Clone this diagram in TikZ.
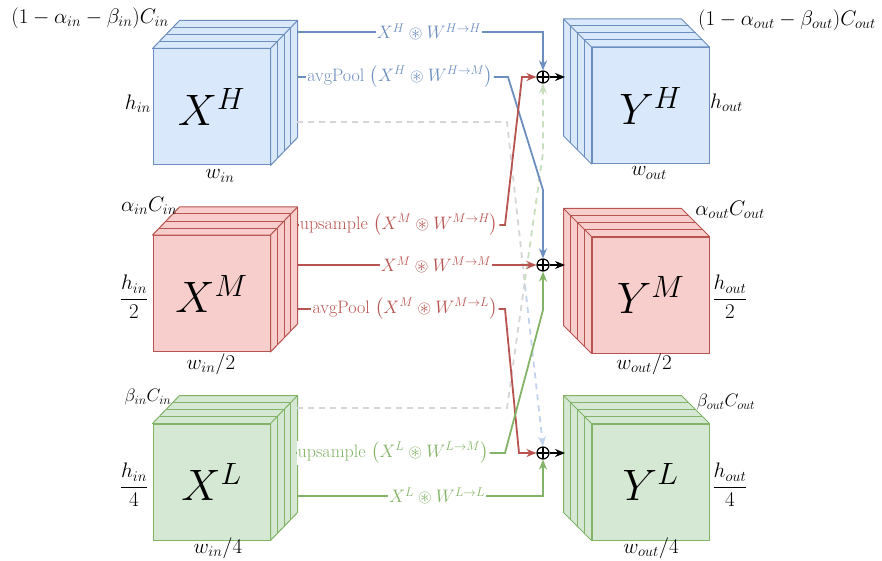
\RequirePackage{fix-cm}
\documentclass[tikz,border=0pt]{standalone}
\usepackage{amsmath,amssymb}
\usetikzlibrary{arrows.meta,calc}
\definecolor{bfill}{HTML}{DAE8FC}
\definecolor{bline}{HTML}{6C8EBF}
\definecolor{rfill}{HTML}{F8CECC}
\definecolor{rline}{HTML}{B85450}
\definecolor{gfill}{HTML}{D5E8D4}
\definecolor{gline}{HTML}{82B366}
\definecolor{dgray}{HTML}{D6D6D6}
\definecolor{dblue}{HTML}{C3D3EC}
\definecolor{dgreen}{HTML}{C8DEBE}

\newcommand\xstack[3]{%
 \draw[#3, fill=#2, line width=1pt, line join=round]
   (#1.north west) -- ++(27,-28) -- ($(#1.north east)+(27,-28)$) -- ($(#1.south east)+(27,-28)$) -- (#1.south east) -- (#1.north east) -- cycle;
 \foreach \k in {0.25,0.5,0.75}{
   \draw[#3, line width=1pt] ($(#1.north west)+\k*(27,-28)$) -- ($(#1.north east)+\k*(27,-28)$) -- ($(#1.south east)+\k*(27,-28)$);}
 \draw[#3, line width=1pt] (#1.north east) -- ++(27,-28);
}
\newcommand\ystack[3]{%
 \draw[#3, fill=#2, line width=1pt, line join=round]
   (#1.north east) -- ++(-28,-28) -- ($(#1.north west)+(-28,-28)$) -- ($(#1.south west)+(-28,-28)$) -- (#1.south west) -- (#1.north west) -- cycle;
 \foreach \k in {0.25,0.5,0.75}{
   \draw[#3, line width=1pt] ($(#1.north east)+\k*(-28,-28)$) -- ($(#1.north west)+\k*(-28,-28)$) -- ($(#1.south west)+\k*(-28,-28)$);}
 \draw[#3, line width=1pt] (#1.north west) -- ++(-28,-28);
}

\tikzset{
  face/.style={draw, line width=1pt, inner sep=0pt, minimum width=117pt, minimum height=116pt, font=\fontsize{44}{50}\selectfont},
  sum/.style={circle, draw=black, line width=1.2pt, minimum size=12pt, inner sep=0pt,
    path picture={\draw[line width=1.2pt] (path picture bounding box.north) -- (path picture bounding box.south)
       (path picture bounding box.west) -- (path picture bounding box.east);}},
  conn/.style={line width=1.8pt},
  tip/.style={-{Stealth[length=10pt,width=8pt]}},
  lbl/.style={fill=white, inner sep=1pt, font=\fontsize{18}{21}\selectfont},
  dim/.style={inner sep=0pt, font=\fontsize{21}{24}\selectfont},
  dims/.style={inner sep=0pt, font=\fontsize{18}{21}\selectfont},
  dash1/.style={line width=1.8pt, dash pattern=on 6pt off 5pt},
}

\begin{document}
\begin{tikzpicture}[x=1pt,y=-1pt]
\useasboundingbox (0,0) rectangle (882,561);

% input blocks
\node[face, fill=bfill, draw=bline] (XH) at (211.5,107) {$X^H$};
\xstack{XH}{bfill}{bline}
\node[face, fill=rfill, draw=rline] (XM) at (211.5,293.5) {$X^M$};
\xstack{XM}{rfill}{rline}
\node[face, fill=gfill, draw=gline] (XL) at (211.5,482) {$X^L$};
\xstack{XL}{gfill}{gline}

% output blocks
\node[face, fill=bfill, draw=bline] (YH) at (650.5,105.5) {$Y^H$};
\ystack{YH}{bfill}{bline}
\node[face, fill=rfill, draw=rline] (YM) at (650.5,295) {$Y^M$};
\ystack{YM}{rfill}{rline}
\node[face, fill=gfill, draw=gline] (YL) at (650.5,482) {$Y^L$};
\ystack{YL}{gfill}{gline}

% dimension labels
\node[dim] (tin) at (90,18) {$(1-\alpha_{in}-\beta_{in})C_{in}$};
\node[dim, anchor=east] (hin) at (151,104) {$h_{in}$};
\node[dim] (win) at (220,176) {$w_{in}$};
\node[dim] (ain) at (149,206) {$\alpha_{in}C_{in}$};
\node[dim] (hin2) at (134,297) {$\dfrac{h_{in}}{2}$};
\node[dim] (win2) at (211,364) {$w_{in}/2$};
\node[dims] (bin) at (148,397) {$\beta_{in}C_{in}$};
\node[dim] (hin4) at (134,485) {$\dfrac{h_{in}}{4}$};
\node[dim] (win4) at (218,548) {$w_{in}/4$};

\node[dim] (tout) at (787,20) {$(1-\alpha_{out}-\beta_{out})C_{out}$};
\node[dim, anchor=west] (hout) at (710,103) {$h_{out}$};
\node[dim] (wout) at (649,173) {$w_{out}$};
\node[dim] (aout) at (730,210) {$\alpha_{out}C_{out}$};
\node[dim] (hout2) at (730,297) {$\dfrac{h_{out}}{2}$};
\node[dim] (wout2) at (644,364) {$w_{out}/2$};
\node[dims] (bout) at (726,402) {$\beta_{out}C_{out}$};
\node[dim] (hout4) at (730,485) {$\dfrac{h_{out}}{4}$};
\node[dim] (wout4) at (651,548) {$w_{out}/4$};

% sum nodes
\node[sum] (SH) at (543,77) {};
\node[sum] (SM) at (543,265) {};
\node[sum] (SL) at (543,453) {};

% connector labels
\node[lbl, text=bline] (L1) at (429,32) {$X^H \circledast W^{H\to H}$};
\node[lbl, text=bline] (L2) at (400,77) {avgPool $\left(X^H \circledast W^{H\to M}\right)$};
\node[lbl, text=rline] (L5) at (399,225) {upsample $\left(X^M \circledast W^{M\to H}\right)$};
\node[lbl, text=rline] (L6) at (436,265) {$X^M \circledast W^{M\to M}$};
\node[lbl, text=rline] (L7) at (405,309) {avgPool $\left(X^M \circledast W^{M\to L}\right)$};
\node[lbl, text=gline] (L8) at (393,453) {upsample $\left(X^L \circledast W^{L\to M}\right)$};
\node[lbl, text=gline] (L9) at (437,496) {$X^L \circledast W^{L\to L}$};

% start/bend coordinates
\coordinate (h1) at (297,32);
\coordinate (h2) at (297,77);
\coordinate (h3) at (297,122);
\coordinate (m1) at (297,225);
\coordinate (m2) at (297,265);
\coordinate (m3) at (297,309);
\coordinate (l0) at (297,408);
\coordinate (l1) at (297,453);
\coordinate (l2) at (297,496);
\coordinate (a1) at (507,122);
\coordinate (a2) at (525,285);
\coordinate (b1) at (507,408);
\coordinate (b2) at (525,280);
\coordinate (b3) at (543,153);
\coordinate (c2a) at (508,77);
\coordinate (c2b) at (543,190);
\coordinate (c5a) at (505,225);
\coordinate (c5b) at (522,77);
\coordinate (c7a) at (505,309);
\coordinate (c7b) at (519,453);
\coordinate (c8a) at (505,453);
\coordinate (c8b) at (543,310);
\coordinate (oH) at (565,77);
\coordinate (oM) at (565,265);
\coordinate (oL) at (565,453);

% dashed (dropped) paths
\draw[dash1, dgray] (h3) -- (a1) -- (a2);
\draw[dash1, dblue, tip] (a2) -- (SL.north);
\draw[dash1, dgray] (l0) -- (b1) -- (b2);
\draw[dash1, dgreen, tip] (b2) -- (b3) -- (SH.south);

% high input
\draw[conn, bline] (h1) -- (L1.west);
\draw[conn, bline, tip] (L1.east) -| (SH.north);
\draw[conn, bline] (h2) -- (L2.west);
\draw[conn, bline, tip] (L2.east) -- (c2a) -- (c2b) -- (SM.north);

% mid input
\draw[conn, rline] (m1) -- (L5.west);
\draw[conn, rline, tip] (L5.east) -- (c5a) -- (c5b) -- (SH.west);
\draw[conn, rline] (m2) -- (L6.west);
\draw[conn, rline, tip] (L6.east) -- (SM.west);
\draw[conn, rline] (m3) -- (L7.west);
\draw[conn, rline, tip] (L7.east) -- (c7a) -- (c7b) -- (SL.west);

% low input
\draw[conn, gline] (l1) -- (L8.west);
\draw[conn, gline, tip] (L8.east) -- (c8a) -- (c8b) -- (SM.south);
\draw[conn, gline] (l2) -- (L9.west);
\draw[conn, gline, tip] (L9.east) -| (SL.south);

% outputs
\draw[conn, black, tip] (SH.east) -- (oH);
\draw[conn, black, tip] (SM.east) -- (oM);
\draw[conn, black, tip] (SL.east) -- (oL);
\end{tikzpicture}
\end{document}
